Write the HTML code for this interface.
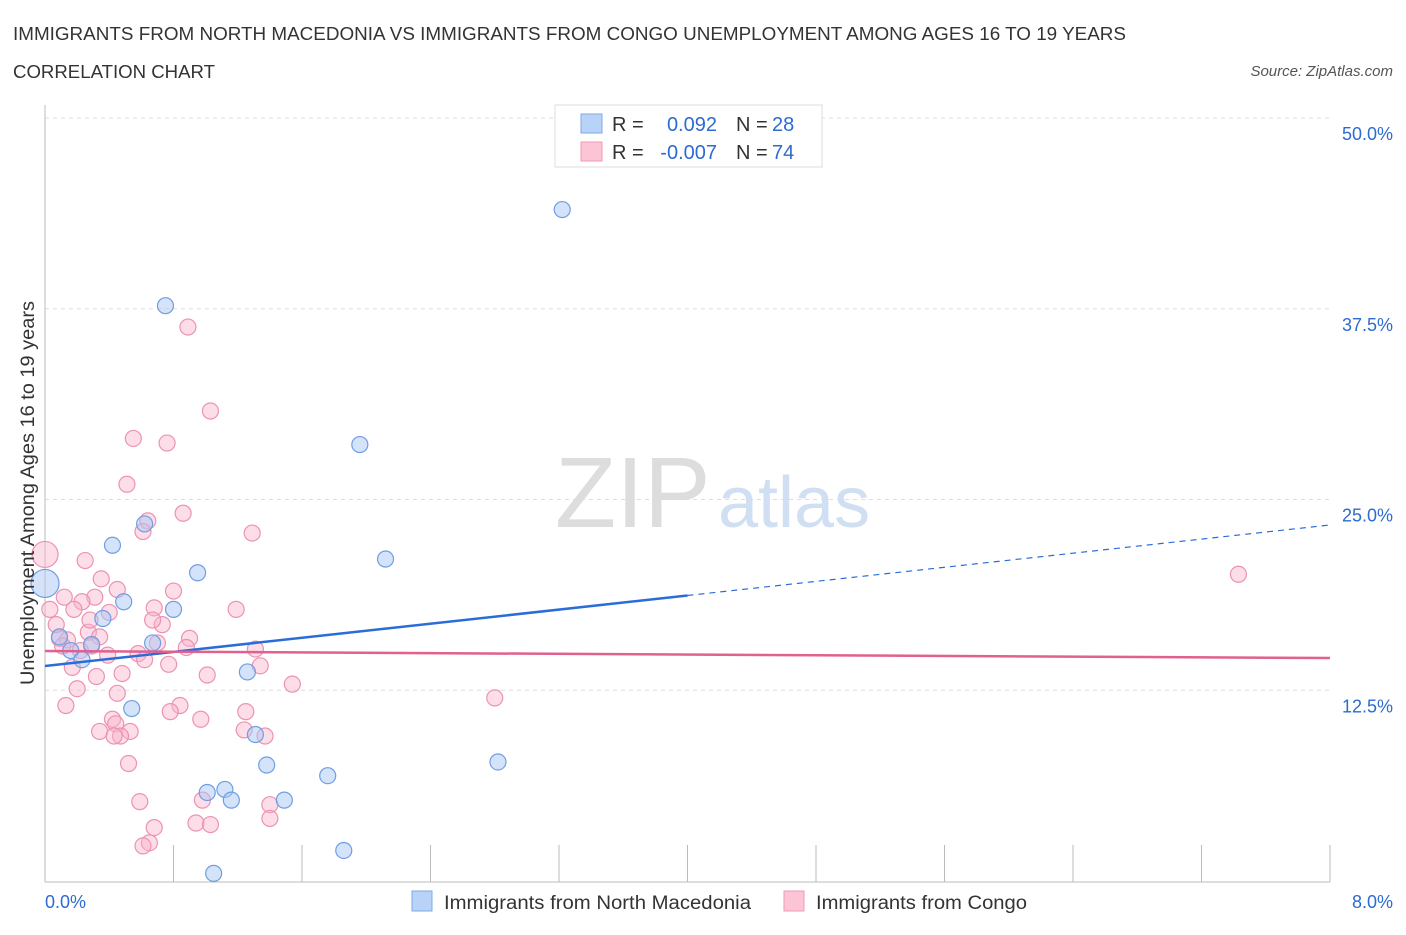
<!DOCTYPE html>
<html><head><meta charset="utf-8"><style>
body{margin:0;background:#fff;font-family:"Liberation Sans",sans-serif}
svg text{font-family:"Liberation Sans",sans-serif}
</style></head><body>
<svg id="chart" width="1406" height="930" xmlns="http://www.w3.org/2000/svg">
<text x="13" y="40" font-size="18" fill="#333" textLength="1113" lengthAdjust="spacingAndGlyphs">IMMIGRANTS FROM NORTH MACEDONIA VS IMMIGRANTS FROM CONGO UNEMPLOYMENT AMONG AGES 16 TO 19 YEARS</text>
<text x="13" y="78" font-size="18" fill="#333" textLength="202" lengthAdjust="spacingAndGlyphs">CORRELATION CHART</text>
<text x="1393" y="76" font-size="15" fill="#555" font-style="italic" text-anchor="end">Source: ZipAtlas.com</text>
<text x="555" y="527" font-size="100" fill="#ddd" font-family="Liberation Serif">ZIP</text>
<text x="718" y="527" font-size="72" fill="#d0dff2">atlas</text>
<g id="grid"></g><g id="axes"></g><g id="pts"></g><g id="trend"></g>
<text transform="translate(34,493) rotate(-90)" font-size="19" fill="#333" text-anchor="middle" textLength="384" lengthAdjust="spacingAndGlyphs">Unemployment Among Ages 16 to 19 years</text>
<g>
<rect x="555" y="105" width="267" height="62" fill="#fff" stroke="#ddd"/>
<rect x="581" y="114" width="21" height="19" fill="#b8d3f7" stroke="#7ea9e6"/>
<rect x="581" y="142" width="21" height="19" fill="#fcc5d6" stroke="#ee9ab5"/>
<text x="612" y="131" font-size="20" fill="#333">R =</text><text x="717" y="131" font-size="20" fill="#2d6bd0" text-anchor="end">0.092</text>
<text x="736" y="131" font-size="20" fill="#333">N =</text><text x="772" y="131" font-size="20" fill="#2d6bd0">28</text>
<text x="612" y="159" font-size="20" fill="#333">R =</text><text x="717" y="159" font-size="20" fill="#2d6bd0" text-anchor="end">-0.007</text>
<text x="736" y="159" font-size="20" fill="#333">N =</text><text x="772" y="159" font-size="20" fill="#2d6bd0">74</text>
</g>
<g>
<rect x="412" y="891" width="20" height="20" fill="#b8d3f7" stroke="#7ea9e6"/>
<text x="444" y="909" font-size="19" fill="#333" textLength="307" lengthAdjust="spacingAndGlyphs">Immigrants from North Macedonia</text>
<rect x="784" y="891" width="20" height="20" fill="#fcc5d6" stroke="#ee9ab5"/>
<text x="816" y="909" font-size="19" fill="#333" textLength="211" lengthAdjust="spacingAndGlyphs">Immigrants from Congo</text>
</g>
</svg>
<script>
const yTicks=[12.5,25.0,37.5,50.0];
const xTickLabels=["0.0%","8.0%"];
const blueX=[3.22,0.75,1.96,0.62,0.42,2.12,0.95,0.49,0.80,0.36,0.67,0.29,0.16,0.23,1.26,0.54,1.31,1.38,2.82,1.76,1.12,1.01,1.16,1.49,1.86,1.05,0.0,0.09];
const blueY=[44.0,37.7,28.6,23.4,22.0,21.1,20.2,18.3,17.8,17.2,15.6,15.5,15.1,14.5,13.7,11.3,9.6,7.6,7.8,6.9,6.0,5.8,5.3,5.3,2.0,0.5,19.5,16.0];
const pinkX=[0.89,1.03,0.55,0.76,0.51,0.86,0.64,0.61,1.29,0.25,0.0,7.43,0.35,0.80,0.31,0.23,0.68,1.19,0.03,0.18,0.40,0.73,0.27,0.09,0.14,0.34,0.90,0.70,0.29,0.88,1.31,0.58,0.39,0.62,0.77,1.34,0.17,0.48,1.01,0.32,1.54,0.20,0.45,2.80,0.84,0.13,0.78,1.25,0.42,0.97,0.44,1.24,0.34,0.53,0.47,1.37,0.43,0.52,0.59,0.98,1.40,0.68,0.94,1.03,1.40,0.65,0.61,0.07,0.11,0.22,0.45,0.12,0.67,0.28];
const pinkY=[36.3,30.8,29.0,28.7,26.0,24.1,23.6,22.9,22.8,21.0,21.4,20.1,19.8,19.0,18.6,18.3,17.9,17.8,17.8,17.8,17.6,16.8,16.3,15.9,15.8,16.0,15.9,15.6,15.4,15.3,15.2,14.9,14.8,14.5,14.2,14.1,14.0,13.6,13.5,13.4,12.9,12.6,12.3,12.0,11.5,11.5,11.1,11.1,10.6,10.6,10.3,9.9,9.8,9.8,9.5,9.5,9.5,7.7,5.2,5.3,5.0,3.5,3.8,3.7,4.1,2.5,2.3,16.8,15.4,15.1,19.1,18.6,17.1,17.1];
const blueTrend=[14.09,23.33], pinkTrend=[15.07,14.61];
const X=v=>45+v/8*1285, Y=v=>881-v/50*763;
const NS="http://www.w3.org/2000/svg";
function mk(p,t,a){const e=document.createElementNS(NS,t);for(const k in a)e.setAttribute(k,a[k]);p.appendChild(e);return e;}
const grid=document.getElementById('grid'),axes=document.getElementById('axes'),pts=document.getElementById('pts'),tr=document.getElementById('trend');
yTicks.forEach(v=>{const l=mk(grid,'line',{x1:45,x2:1330,y1:Y(v),y2:Y(v),stroke:'#ddd','stroke-dasharray':'4,4'});


const t=mk(axes,'text',{x:1393,y:Y(v)+22,'font-size':18,fill:'#2d6bd0','text-anchor':'end'});t.textContent=v.toFixed(1)+'%';

});
const ax=mk(axes,'line',{x1:45,x2:1330,y1:882,y2:882,stroke:'#bbb'});


const ay=mk(axes,'line',{x1:45,x2:45,y1:105,y2:882,stroke:'#bbb'});


for(let i=0;i<=10;i++){const t=mk(axes,'line',{x1:X(i*0.8),x2:X(i*0.8),y1:845,y2:882,stroke:'#bbb'});

}
[[0,45,'start'],[1,1393,'end']].forEach(([i,x,a])=>{const t=mk(axes,'text',{x:x,y:908,'font-size':18,fill:'#2d6bd0','text-anchor':a});t.textContent=xTickLabels[i];

});
pinkX.forEach((v,i)=>{const c=mk(pts,'circle',{cx:X(v),cy:Y(pinkY[i]),r:(i==10?13:8),fill:'rgba(248,180,203,0.45)',stroke:'#ec93b1','stroke-width':1.2});

});
blueX.forEach((v,i)=>{const c=mk(pts,'circle',{cx:X(v),cy:Y(blueY[i]),r:(i==26?14:8),fill:'rgba(170,200,243,0.5)',stroke:'#6f9ee3','stroke-width':1.2});

});
const bm=blueTrend[0]+(blueTrend[1]-blueTrend[0])*0.5;
const b1=mk(tr,'line',{x1:X(0),y1:Y(blueTrend[0]),x2:X(4),y2:Y(bm),stroke:'#2a6dd9','stroke-width':2.5});


const b2=mk(tr,'line',{x1:X(4),y1:Y(bm),x2:X(8),y2:Y(blueTrend[1]),stroke:'#2a6dd9','stroke-width':1.2,'stroke-dasharray':'6,5'});


const p1=mk(tr,'line',{x1:X(0),y1:Y(pinkTrend[0]),x2:X(8),y2:Y(pinkTrend[1]),stroke:'#e0608f','stroke-width':2.5});


</script>
</body></html>
